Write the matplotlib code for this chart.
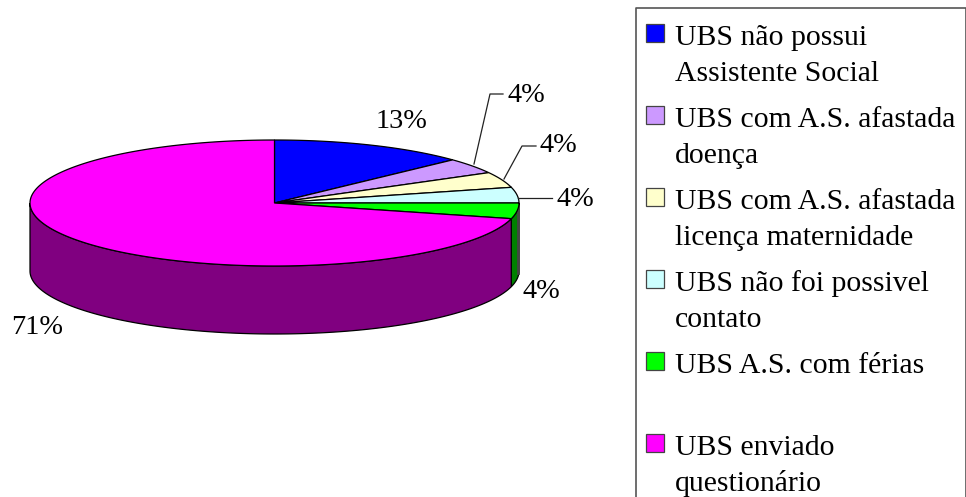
import numpy as np
import matplotlib
matplotlib.use('Agg')
import matplotlib.pyplot as plt
from matplotlib.patches import Rectangle

plt.rcParams['font.family'] = ['Liberation Serif', 'DejaVu Serif']

# share of UBS in each situation (%)
labels = ['UBS não possui\nAssistente Social',
          'UBS com A.S. afastada\ndoença',
          'UBS com A.S. afastada\nlicença maternidade',
          'UBS não foi possivel\ncontato',
          'UBS A.S. com férias',
          'UBS enviado\nquestionário']
shares = [13, 4, 4, 4, 4, 71]
top_colors = ['#0000ff', '#cc99ff', '#ffffcc', '#ccffff', '#00ff00', '#ff00ff']
side_colors = ['#000080', '#664d80', '#808066', '#668080', '#008000', '#800080']

# pie geometry in figure pixels
cx, cy, rx, ry = 274.5, 203, 244.5, 63
depth = 68


def arc(a0, a1):
    # a is measured clockwise from 12 o'clock
    t = np.radians(np.linspace(a0, a1, 200))
    return cx + rx * np.sin(t), cy - ry * np.cos(t)


fig = plt.figure(figsize=(9.66, 4.97), dpi=100)
ax = fig.add_axes([0, 0, 1, 1])
ax.set_xlim(0, 966)
ax.set_ylim(497, 0)
ax.axis('off')

ends = np.cumsum(shares) / sum(shares) * 360
starts = np.r_[0, ends[:-1]]

# side wall, only the front half of the rim shows
for a0, a1, c in zip(starts, ends, side_colors):
    lo, hi = max(a0, 90), min(a1, 270)
    if lo >= hi:
        continue
    x, y = arc(lo, hi)
    ax.fill(np.r_[x, x[::-1]], np.r_[y, y[::-1] + depth], fc=c, ec='black', lw=0.9, zorder=2)

# dark strip on the far right of the wall
ax.plot([cx + rx - 1.5] * 2, [cy + 3, cy + 70], color='#444444', lw=2, zorder=2.5)

# top face
for a0, a1, c in zip(starts, ends, top_colors):
    x, y = arc(a0, a1)
    ax.fill(np.r_[cx, x], np.r_[cy, y], fc=c, ec='black', lw=0.9, zorder=3)

# percent labels
pct = ['%d%%' % v for v in shares]
label_pos = [(402, 122), (526, 95), (558, 146), (575, 200), (541, 292), (37, 328)]
for s, (x, y) in zip(pct, label_pos):
    ax.text(x, y, s, fontsize=20.3, ha='center', va='center', color='black', zorder=5)

# leader lines for the thin slices
ax.plot([474, 490, 503], [164, 94, 94], color='#222222', lw=0.9, zorder=4)
ax.plot([504, 522, 536], [179, 146, 146], color='#222222', lw=0.9, zorder=4)
ax.plot([518, 552], [198, 198], color='#222222', lw=0.9, zorder=4)

# legend box runs off the bottom edge
ax.plot([636, 636, 965.5, 965.5], [500, 8, 8, 500], color='#555555', lw=1.2, zorder=4, clip_on=False)
swatch_top = [24, 106, 188, 270, 352, 434]
for i, (s, c) in enumerate(zip(labels, top_colors)):
    ax.add_patch(Rectangle((646, swatch_top[i]), 18, 17.5, fc=c, ec='#444444', lw=0.9, zorder=4))
    base = swatch_top[i] + 21
    for j, line in enumerate(s.split('\n')):
        ax.text(675, base + j * 36.3, line, fontsize=21.4, ha='left', va='baseline', color='black', zorder=5)

fig.savefig('out.png', dpi=100)
